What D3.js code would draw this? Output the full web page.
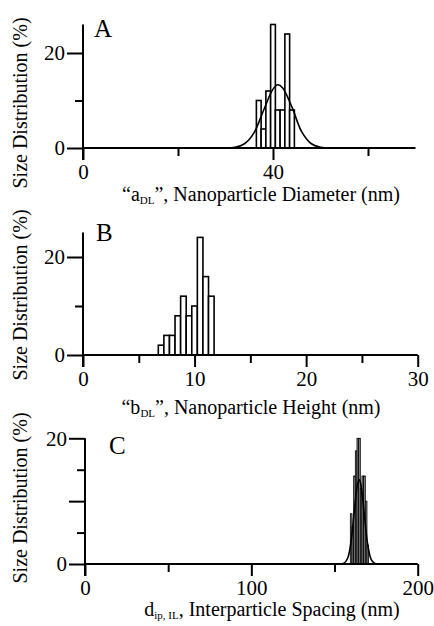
<!DOCTYPE html>
<html>
<head>
<meta charset="utf-8">
<script src="https://cdn.jsdelivr.net/npm/d3@7"></script>
<style>
  body { margin: 0; background: #fff; }
  svg { display: block; }
  text { font-family: "Liberation Serif", "DejaVu Serif", serif; fill: #000; }
</style>
</head>
<body>
<div id="chart"></div>
<script>
// ---- dades llegides del grafic ----
// A: diametre (bins d'1 nm)
const aBins = [37, 38, 39, 40, 41, 42, 43, 44];
const aValues = [10, 4, 12, 26, 8, 8, 24, 8];
const aFitX = [30, 32, 34, 36, 38, 40, 41, 42, 44, 46, 48, 50, 52];
const aFitY = [0, 0.15, 0.9, 3.2, 7.9, 12.4, 13.3, 12.7, 8.6, 3.5, 0.95, 0.16, 0];

// B: alcada (bins de 0.5 nm)
const bBins = [7, 7.5, 8, 8.5, 9, 9.5, 10, 10.5, 11, 11.5];
const bValues = [2, 4, 4, 8, 12, 8, 10, 24, 16, 12];

// C: espaiat (bins d'1 nm)
const cBins = [160, 161, 162, 163, 164, 165, 166, 167, 168, 169, 170];
const cValues = [8, 6, 14, 18, 20, 20, 12, 14, 14, 10, 3];
const cFitX = [152, 154, 156, 158, 160, 162, 164, 165, 166, 168, 170, 172, 174, 176];
const cFitY = [0, 0.02, 0.18, 1.0, 3.7, 8.7, 12.9, 13.4, 12.4, 7.6, 3.0, 0.75, 0.12, 0];

const W = 434, H = 626;

const svg = d3.select("#chart")
    .append("svg")
        .attr("width", W)
        .attr("height", H);

svg.append("rect").attr("width", W).attr("height", H).attr("fill", "#fff");

// config de cada panell
const panels = [
    {
        letter: "A", letterX: 94, letterY: 37,
        x: d3.scaleLinear().domain([0, 70]).range([83, 415.5]),
        y: d3.scaleLinear().domain([0, 20]).range([148, 53]),
        yTop: 26,
        xMajor: [0, 40], xMinor: [20, 60],
        yMajor: [0, 20], yMid: [], yMinor: [10],
        bins: aBins, values: aValues, binW: 1, fill: "#fff", barStroke: 1.6,
        fitX: aFitX, fitY: aFitY,
        labelY: 103, titleY: 201, titleX: 261,
        sub: "DL", pre: "\u201ca", post: "\u201d, Nanoparticle Diameter (nm)"
    },
    {
        letter: "B", letterX: 96, letterY: 241,
        x: d3.scaleLinear().domain([0, 30]).range([83, 417.7]),
        y: d3.scaleLinear().domain([0, 20]).range([355, 257]),
        yTop: 25,
        xMajor: [0, 10, 20, 30], xMinor: [5, 15, 25],
        yMajor: [0, 20], yMid: [], yMinor: [10],
        bins: bBins, values: bValues, binW: 0.5, fill: "#fff", barStroke: 1.6,
        fitX: null, fitY: null,
        labelY: 295, titleY: 414, titleX: 251,
        sub: "DL", pre: "\u201cb", post: "\u201d, Nanoparticle Height (nm)"
    },
    {
        letter: "C", letterX: 109, letterY: 454,
        x: d3.scaleLinear().domain([0, 200]).range([85, 417.7]),
        y: d3.scaleLinear().domain([0, 20]).range([564, 438.3]),
        yTop: 20,
        xMajor: [0, 100, 200], xMinor: [50, 150],
        yMajor: [0, 20], yMid: [10], yMinor: [5, 15],
        bins: cBins, values: cValues, binW: 1, fill: "#8a8a8a", barStroke: 0.8,
        fitX: cFitX, fitY: cFitY,
        labelY: 498, titleY: 616, titleX: 272,
        sub: "ip, IL", pre: "d", post: ", Interparticle Spacing (nm)"
    }
];

panels.forEach(function(p) {
    const g = svg.append("g");
    const x = p.x, y = p.y;

    // barres de l'histograma
    g.selectAll(".bar")
        .data(p.bins.map((b, i) => ({ b: b, v: p.values[i] })))
        .enter()
        .append("rect")
            .attr("class", "bar")
            .attr("x", d => x(d.b - p.binW / 2))
            .attr("width", d => x(d.b + p.binW / 2) - x(d.b - p.binW / 2))
            .attr("y", d => y(d.v))
            .attr("height", d => y(0) - y(d.v))
            .attr("fill", p.fill)
            .attr("stroke", "#000")
            .attr("stroke-width", p.barStroke);

    // corba d'ajust
    if (p.fitX) {
        const line = d3.line()
            .x(d => x(d[0]))
            .y(d => y(d[1]))
            .curve(d3.curveCatmullRom);
        g.append("path")
            .attr("d", line(p.fitX.map((v, i) => [v, p.fitY[i]])))
            .attr("fill", "none")
            .attr("stroke", "#000")
            .attr("stroke-width", 1.6);
    }

    // eix X
    g.append("g")
        .attr("transform", `translate(0, ${y(0)})`)
        .call(d3.axisBottom(x).tickValues(p.xMajor).tickSize(12).tickPadding(4).tickSizeOuter(0))
        .call(a => a.select(".domain").remove());
    g.append("g")
        .attr("transform", `translate(0, ${y(0)})`)
        .call(d3.axisBottom(x).tickValues(p.xMinor).tickSize(8).tickFormat("").tickSizeOuter(0))
        .call(a => a.select(".domain").remove());

    // eix Y
    g.append("g")
        .attr("transform", `translate(${x(0)}, 0)`)
        .call(d3.axisLeft(y).tickValues(p.yMajor).tickSize(16).tickPadding(2).tickSizeOuter(0))
        .call(a => a.select(".domain").remove());
    g.append("g")
        .attr("transform", `translate(${x(0)}, 0)`)
        .call(d3.axisLeft(y).tickValues(p.yMid).tickSize(16).tickFormat("").tickSizeOuter(0))
        .call(a => a.select(".domain").remove());
    g.append("g")
        .attr("transform", `translate(${x(0)}, 0)`)
        .call(d3.axisLeft(y).tickValues(p.yMinor).tickSize(8).tickFormat("").tickSizeOuter(0))
        .call(a => a.select(".domain").remove());

    g.selectAll(".tick line").attr("stroke", "#000").attr("stroke-width", 2);
    g.selectAll(".tick text")
        .style("font-family", "'Liberation Serif', serif")
        .style("font-size", "21px")
        .attr("fill", "#000");

    // linies dels eixos
    g.append("line")
        .attr("x1", x.range()[0]).attr("x2", x.range()[1])
        .attr("y1", y(0)).attr("y2", y(0))
        .attr("stroke", "#000").attr("stroke-width", 2);
    g.append("line")
        .attr("x1", x(0)).attr("x2", x(0))
        .attr("y1", y(p.yTop)).attr("y2", y(0) + 12)
        .attr("stroke", "#000").attr("stroke-width", 2);

    // lletra del panell
    g.append("text")
        .attr("x", p.letterX)
        .attr("y", p.letterY)
        .style("font-size", "25px")
        .text(p.letter);

    // titol eix Y
    g.append("text")
        .attr("transform", `translate(27, ${p.labelY}) rotate(-90)`)
        .attr("text-anchor", "middle")
        .style("font-size", "20px")
        .text("Size Distribution (%)");

    // titol eix X
    const t = g.append("text")
        .attr("x", p.titleX)
        .attr("y", p.titleY)
        .attr("text-anchor", "middle")
        .style("font-size", "20px");
    t.append("tspan").text(p.pre);
    t.append("tspan").attr("dy", 3).style("font-size", "11px").text(p.sub);
    t.append("tspan").attr("dy", -3).text(p.post);
});
</script>
</body>
</html>
